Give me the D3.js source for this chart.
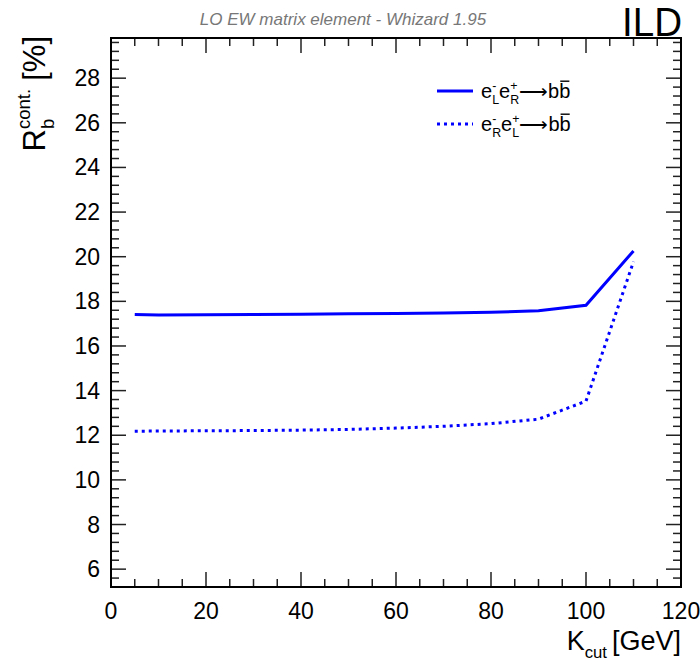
<!DOCTYPE html>
<html>
<head>
<meta charset="utf-8">
<script src="https://cdn.jsdelivr.net/npm/d3@7"></script>
<style>
  body { margin: 0; background: #fff; }
  text { font-family: "Liberation Sans", Arial, sans-serif; }
</style>
</head>
<body>
<svg id="chart" width="700" height="667"></svg>
<script>
// K_cut values (GeV) and R_b^cont. (%) for both polarisations
var kcut = [5, 10, 20, 30, 40, 50, 60, 70, 80, 90, 100, 110];
var rbLR = [17.41, 17.39, 17.40, 17.41, 17.42, 17.44, 17.46, 17.48, 17.51, 17.58, 17.82, 20.26];
var rbRL = [12.18, 12.19, 12.20, 12.21, 12.23, 12.26, 12.32, 12.40, 12.52, 12.72, 13.53, 19.78];
var xTicks = [0, 20, 40, 60, 80, 100, 120];
var yTicks = [6, 8, 10, 12, 14, 16, 18, 20, 22, 24, 26, 28];

var svg = d3.select("#chart");
var pLeft = 111, pRight = 681, pTop = 38, pBottom = 587;

var x = d3.scaleLinear().domain([0, 120]).range([pLeft, pRight]);
var y = d3.scaleLinear().domain([5.2, 29.8]).range([pBottom, pTop]);

function isMajor(v, step) { return Math.abs(v / step - Math.round(v / step)) < 1e-6; }

// ticks on all four sides, ROOT style (inside)
var ticks = svg.append("g").attr("stroke", "#222").attr("stroke-width", 1.5);
d3.range(0, 120.01, 5).forEach(function(v) {
  var len = isMajor(v, 20) ? 15 : 8;
  ticks.append("line").attr("x1", x(v)).attr("x2", x(v)).attr("y1", pBottom).attr("y2", pBottom - len);
  ticks.append("line").attr("x1", x(v)).attr("x2", x(v)).attr("y1", pTop).attr("y2", pTop + len);
});
d3.range(5.6, 29.81, 0.4).forEach(function(v) {
  v = +v.toFixed(1);
  var len = isMajor(v, 2) ? 15 : 8;
  ticks.append("line").attr("y1", y(v)).attr("y2", y(v)).attr("x1", pLeft).attr("x2", pLeft + len);
  ticks.append("line").attr("y1", y(v)).attr("y2", y(v)).attr("x1", pRight).attr("x2", pRight - len);
});

svg.append("rect")
   .attr("x", pLeft).attr("y", pTop)
   .attr("width", pRight - pLeft).attr("height", pBottom - pTop)
   .attr("fill", "none").attr("stroke", "#000").attr("stroke-width", 2);

// tick labels
svg.selectAll(".xl").data(xTicks).enter().append("text")
   .attr("x", function(d) { return x(d); })
   .attr("y", 619)
   .attr("text-anchor", "middle")
   .style("font-size", "23px")
   .text(function(d) { return d; });

svg.selectAll(".yl").data(yTicks).enter().append("text")
   .attr("x", 100)
   .attr("y", function(d) { return y(d) + 8; })
   .attr("text-anchor", "end")
   .style("font-size", "23px")
   .text(function(d) { return d; });

// curves
var line = d3.line().x(function(d) { return x(d[0]); }).y(function(d) { return y(d[1]); });
svg.append("path")
   .datum(kcut.map(function(k, i) { return [k, rbLR[i]]; }))
   .attr("d", line)
   .attr("fill", "none").attr("stroke", "#0000ff").attr("stroke-width", 3);
svg.append("path")
   .datum(kcut.map(function(k, i) { return [k, rbRL[i]]; }))
   .attr("d", line)
   .attr("fill", "none").attr("stroke", "#0000ff").attr("stroke-width", 3)
   .attr("stroke-dasharray", "3,4");

// rich text: pieces laid out one by one, measured in the browser.
// a "stack" piece sits over the next one; the pair advances by the wider of the two
function richText(g, x0, y0, size, pieces, opts) {
  opts = opts || {};
  var small = opts.small || 0.62, supUp = opts.supUp || 0.42;
  var cx = x0, held = 0;
  pieces.forEach(function(p) {
    var fs = p.small ? size * small : size;
    var dy = p.sup ? -size * supUp : (p.sub ? size * 0.28 : 0);
    var t = g.append("text").attr("x", cx).attr("y", y0 + dy)
             .style("font-size", fs + "px").text(p.t);
    var w = t.node().getComputedTextLength();
    if (p.bar) {
      g.append("line").attr("x1", cx + 1).attr("x2", cx + w - 1)
       .attr("y1", y0 - size * 0.84).attr("y2", y0 - size * 0.84)
       .attr("stroke", "#000").attr("stroke-width", 1.4);
    }
    if (p.stack) { held = w; return; }
    cx += Math.max(w, held) + (p.gap || 0);
    held = 0;
  });
  return cx;
}

// legend
var lg = svg.append("g");
lg.append("line").attr("x1", 437).attr("x2", 473).attr("y1", 91).attr("y2", 91)
  .attr("stroke", "#0000ff").attr("stroke-width", 3);
lg.append("line").attr("x1", 437).attr("x2", 473).attr("y1", 124).attr("y2", 124)
  .attr("stroke", "#0000ff").attr("stroke-width", 3).attr("stroke-dasharray", "3,4");
var legPieces = [
  [["-", "L"], ["+", "R"]],
  [["-", "R"], ["+", "L"]]
];
legPieces.forEach(function(lp, i) {
  richText(lg, 481, 98 + i * 33, 20, [
    {t: "e"}, {t: lp[0][0], small: true, sup: true, stack: true}, {t: lp[0][1], small: true, sub: true},
    {t: "e"}, {t: lp[1][0], small: true, sup: true, stack: true}, {t: lp[1][1], small: true, sub: true},
    {t: "\u27F6"}, {t: "b"}, {t: "b", bar: true}
  ]);
});

// header
svg.append("text")
   .attr("x", 343).attr("y", 25)
   .attr("text-anchor", "middle")
   .style("font-size", "17px").style("font-style", "italic")
   .attr("fill", "#777")
   .text("LO EW matrix element - Whizard 1.95");
svg.append("text")
   .attr("x", 682).attr("y", 36)
   .attr("text-anchor", "end")
   .style("font-size", "40px")
   .attr("textLength", 60).attr("lengthAdjust", "spacingAndGlyphs")
   .text("ILD");

// x title, right aligned at frame edge
var xt = svg.append("g");
var xw = richText(xt, 0, 0, 27, [{t: "K"}, {t: "cut", small: true, sub: true, gap: 5}, {t: "[GeV]"}]);
xt.attr("transform", "translate(" + (pRight - xw) + ",650)");

// y title, rotated, ending at top of frame
var yt = svg.append("g");
var yw = richText(yt, 0, 0, 31, [{t: "R"}, {t: "cont.", small: true, sup: true, stack: true},
                                  {t: "b", small: true, sub: true, gap: 8}, {t: "[%]"}],
                  {small: 0.6, supUp: 0.5});
yt.attr("transform", "translate(45," + (36 + yw) + ") rotate(-90)");
</script>
</body>
</html>
